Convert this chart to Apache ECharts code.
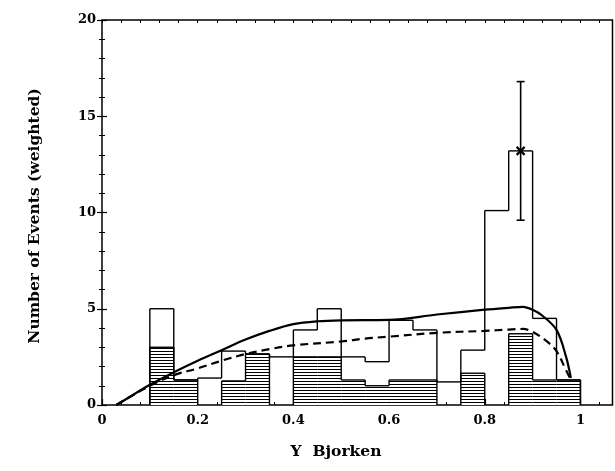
<!DOCTYPE html>
<html>
<head>
<meta charset="utf-8">
<script src="https://cdn.jsdelivr.net/npm/echarts@6/dist/echarts.min.js"></script>
<style>
  html, body { margin: 0; padding: 0; background: #fff; }
  #chart { width: 615px; height: 471px; }
</style>
</head>
<body>
<div id="chart"></div>
<script>
// Histogram bins (lower edges, width 0.05 in y)
const binLow = [0.10, 0.15, 0.20, 0.25, 0.30, 0.35, 0.40, 0.45, 0.50, 0.55,
                0.60, 0.65, 0.70, 0.75, 0.80, 0.85, 0.90, 0.95];
const binWidth = 0.05;
// Outlined histogram: all weighted events
const openCounts = [5.0, 1.3, 1.4, 2.8, 2.65, 2.5, 3.9, 5.0, 2.5, 2.25,
                    4.4, 3.9, 1.2, 2.85, 10.1, 13.2, 4.5, 1.3];
// Hatched histogram: subset
const hatchCounts = [3.0, 1.3, 0, 1.25, 2.65, 0, 2.5, 2.5, 1.3, 1.0,
                     1.3, 1.3, 0, 1.65, 0, 3.7, 1.3, 1.3];

// Smooth expectation curves
const solidCurve = [
  [0.03, 0], [0.05, 0.3], [0.10, 1.05], [0.15, 1.7], [0.20, 2.3], [0.25, 2.85],
  [0.30, 3.4], [0.35, 3.85], [0.40, 4.2], [0.45, 4.35], [0.50, 4.4], [0.60, 4.42],
  [0.70, 4.7], [0.80, 4.95], [0.85, 5.05], [0.88, 5.1], [0.90, 4.95], [0.92, 4.65],
  [0.95, 3.9], [0.97, 2.5], [0.98, 1.4]
];
const dashedCurve = [
  [0.03, 0], [0.05, 0.3], [0.10, 1.0], [0.15, 1.55], [0.20, 1.9], [0.25, 2.3],
  [0.30, 2.65], [0.35, 2.9], [0.40, 3.1], [0.50, 3.3], [0.55, 3.45], [0.60, 3.55],
  [0.70, 3.75], [0.80, 3.85], [0.85, 3.92], [0.88, 3.95], [0.90, 3.8], [0.93, 3.3],
  [0.95, 2.8], [0.97, 1.8], [0.98, 1.3]
];

// Data point with error bar: [x, low, high, value]
const errPoint = [[0.875, 9.6, 16.8, 13.2]];

const xTickLabels = ['0', '0.2', '0.4', '0.6', '0.8', '1'];
const yTickLabels = ['0', '5', '10', '15', '20'];

const X_MAX = 1.067;

// Horizontal-line hatch pattern
const hatch = document.createElement('canvas');
hatch.width = 6; hatch.height = 3;
(function () {
  const ctx = hatch.getContext('2d');
  ctx.fillStyle = '#fff'; ctx.fillRect(0, 0, 6, 3);
  ctx.fillStyle = '#000'; ctx.fillRect(0, 0, 6, 1);
})();

// Each bin item: [x0, x1, value, previous value, is last bin]
function stepItems(counts) {
  return binLow.map((x, i) => [x, x + binWidth, counts[i],
                               i > 0 ? counts[i - 1] : 0, i === counts.length - 1 ? 1 : 0]);
}

// Draws a histogram as a step outline, optionally filling each bin
function stepRenderer(fill) {
  return function (params, api) {
    const x0 = api.value(0), x1 = api.value(1), v = api.value(2);
    const prev = api.value(3), last = api.value(4);
    const pb = api.coord([x0, 0]);
    const pt = api.coord([x1, v]);
    const pp = api.coord([x0, prev]);
    const children = [];
    const st = { stroke: '#000', lineWidth: 1.4, fill: null };
    if (fill && v > 0) {
      children.push({ type: 'rect',
        shape: { x: pb[0], y: pt[1], width: pt[0] - pb[0], height: pb[1] - pt[1] },
        style: { fill: fill, stroke: null } });
    }
    if (v > 0 || prev > 0) {
      children.push({ type: 'line', shape: { x1: pb[0], y1: pp[1], x2: pb[0], y2: pt[1] }, style: st });
    }
    if (v > 0) {
      children.push({ type: 'line', shape: { x1: pb[0], y1: pt[1], x2: pt[0], y2: pt[1] }, style: st });
      if (last) {
        children.push({ type: 'line', shape: { x1: pt[0], y1: pt[1], x2: pt[0], y2: pb[1] }, style: st });
      }
    }
    return { type: 'group', children: children };
  };
}

const font = 'DejaVu Serif';
const chart = echarts.init(document.getElementById('chart'), null, { renderer: 'canvas' });

const xLabelFmt = v => {
  const k = Math.round(v / 0.2);
  if (Math.abs(v - k * 0.2) > 1e-6 || k >= xTickLabels.length) return '';
  return xTickLabels[k];
};
const yLabelFmt = v => {
  const k = Math.round(v / 5);
  return yTickLabels[k] !== undefined ? yTickLabels[k] : '';
};

chart.setOption({
  animation: false,
  backgroundColor: '#fff',
  grid: { left: 102, right: 2.5, top: 20, bottom: 66, show: true,
          borderColor: '#000', borderWidth: 1.5, backgroundColor: 'transparent' },
  xAxis: [
    { type: 'value', min: 0, max: X_MAX, interval: 0.2, position: 'bottom',
      axisLine: { show: false }, splitLine: { show: false },
      axisTick: { inside: true, length: 6, lineStyle: { color: '#000', width: 1.2 } },
      axisLabel: { formatter: xLabelFmt, showMaxLabel: false, margin: 9,
                   color: '#000', fontFamily: font, fontWeight: 'bold', fontSize: 13 } },
    { type: 'value', min: 0, max: X_MAX, interval: 0.04, position: 'bottom',
      axisLine: { show: false }, splitLine: { show: false },
      axisTick: { inside: true, length: 3, lineStyle: { color: '#000', width: 1 } },
      axisLabel: { show: false } },
    { type: 'value', min: 0, max: X_MAX, interval: 0.04, position: 'top',
      axisLine: { show: false }, splitLine: { show: false },
      axisTick: { inside: true, length: 3, lineStyle: { color: '#000', width: 1 } },
      axisLabel: { show: false } }
  ],
  yAxis: [
    { type: 'value', min: 0, max: 20, interval: 5,
      axisLine: { show: false }, splitLine: { show: false },
      axisTick: { inside: true, length: 5, lineStyle: { color: '#000', width: 1.2 } },
      minorTick: { show: true, splitNumber: 5, length: 3, lineStyle: { color: '#000', width: 1 } },
      axisLabel: { formatter: yLabelFmt, margin: 6, color: '#000',
                   fontFamily: font, fontWeight: 'bold', fontSize: 13 } },
    { type: 'value', min: 0, max: 20, interval: 5, position: 'right',
      axisLine: { show: false }, splitLine: { show: false },
      axisTick: { inside: true, length: 5, lineStyle: { color: '#000', width: 1.2 } },
      minorTick: { show: true, splitNumber: 5, length: 3, lineStyle: { color: '#000', width: 1 } },
      axisLabel: { show: false } }
  ],
  graphic: [
    { type: 'text', rotation: Math.PI / 2, x: 35, y: 216,
      style: { text: 'Number of Events (weighted)', fill: '#000',
               font: 'bold 15.5px "' + font + '"', textAlign: 'center', textVerticalAlign: 'middle' } },
    { type: 'text', x: 336, y: 452,
      style: { text: 'Y  Bjorken', fill: '#000',
               font: 'bold 15.5px "' + font + '"', textAlign: 'center', textVerticalAlign: 'middle' } }
  ],
  series: [
    { type: 'custom', name: 'hatched', data: stepItems(hatchCounts),
      renderItem: stepRenderer({ image: hatch, repeat: 'repeat' }),
      encode: { x: [0, 1], y: 2 }, z: 2 },
    { type: 'custom', name: 'all', data: stepItems(openCounts), renderItem: stepRenderer(null),
      encode: { x: [0, 1], y: 2 }, z: 3 },
    { type: 'line', name: 'solid', data: solidCurve, smooth: 0.35, symbol: 'none', z: 4,
      lineStyle: { color: '#000', width: 2.2 } },
    { type: 'line', name: 'dashed', data: dashedCurve, smooth: 0.35, symbol: 'none', z: 4,
      lineStyle: { color: '#000', width: 2.2, type: [8, 5] } },
    { type: 'custom', name: 'errbar', data: errPoint, z: 5,
      encode: { x: 0, y: [1, 2, 3] },
      renderItem: function (params, api) {
        const lo = api.coord([api.value(0), api.value(1)]);
        const hi = api.coord([api.value(0), api.value(2)]);
        const c = api.coord([api.value(0), api.value(3)]);
        const s = 4, cap = 4;
        const st = { stroke: '#000', lineWidth: 1.6 };
        return { type: 'group', children: [
          { type: 'line', shape: { x1: lo[0], y1: lo[1], x2: hi[0], y2: hi[1] }, style: st },
          { type: 'line', shape: { x1: lo[0] - cap, y1: lo[1], x2: lo[0] + cap, y2: lo[1] }, style: st },
          { type: 'line', shape: { x1: hi[0] - cap, y1: hi[1], x2: hi[0] + cap, y2: hi[1] }, style: st },
          { type: 'line', shape: { x1: c[0] - s, y1: c[1] - s, x2: c[0] + s, y2: c[1] + s }, style: { stroke: '#000', lineWidth: 2.2 } },
          { type: 'line', shape: { x1: c[0] - s, y1: c[1] + s, x2: c[0] + s, y2: c[1] - s }, style: { stroke: '#000', lineWidth: 2.2 } }
        ] };
      } }
  ]
});
</script>
</body>
</html>
